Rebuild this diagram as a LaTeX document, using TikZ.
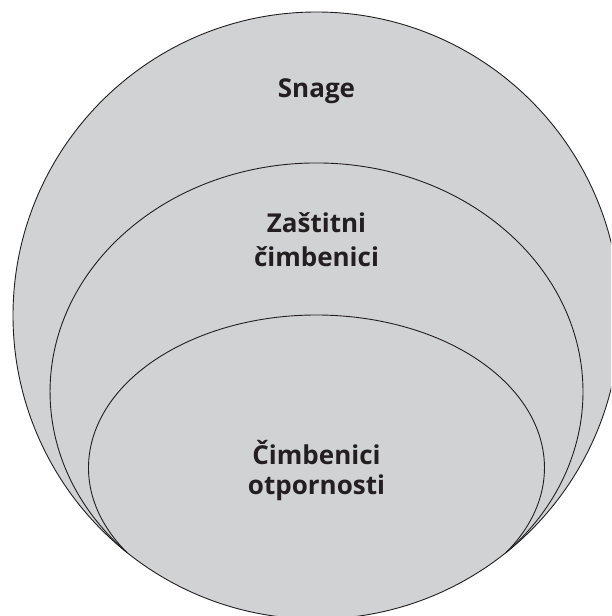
\documentclass[tikz,border=0pt]{standalone}
\usepackage{fontspec}
\setmainfont{Open Sans}
\definecolor{ringfill}{RGB}{209,210,212}
\definecolor{ringline}{RGB}{35,31,32}
\begin{document}
\begin{tikzpicture}[x=1pt,y=1pt,
  ring/.style={draw=ringline,line width=0.9pt,fill=ringfill},
  arcline/.style={draw=ringline,line width=0.9pt},
  lbl/.style={anchor=base,inner sep=0pt,text=ringline,font=\fontsize{26}{32}\selectfont\bfseries}]
\useasboundingbox (0,0) rectangle (611,616);
\clip (0,0) rectangle (611,616);
% outer circle
\coordinate (oc) at (316.5,300.5);
\path[ring] (oc) circle[radius=303.5];
% junction points
\coordinate (jl) at (127,63.4);
% middle ring upper arc
\draw[arcline] (jl) arc[start angle=224.67,end angle=-44.67,x radius=266.5,y radius=228.8];
% inner ring upper arc
\draw[arcline] (jl) arc[start angle=213.78,end angle=-33.78,x radius=228,y radius=152.7];
% labels
\node[lbl] (snage) at (316.5,518) {Snage};
\node[lbl] (zast1) at (316.5,383) {Zaštitni};
\node[lbl] (zast2) at (316.5,349) {čimbenici};
\node[lbl] (otp1) at (316.5,151) {Čimbenici};
\node[lbl] (otp2) at (316.5,121) {otpornosti};
\end{tikzpicture}
\end{document}
